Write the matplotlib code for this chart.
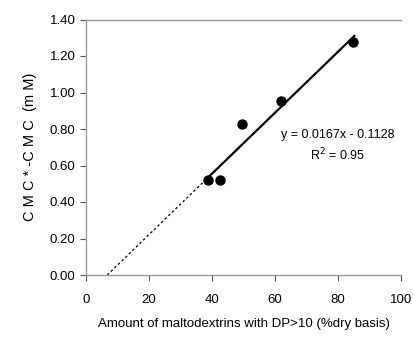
import numpy as np
import matplotlib.pyplot as plt

plt.rcParams['font.family'] = ['Liberation Sans', 'DejaVu Sans']

# data
dp10 = [38.6, 42.5, 49.4, 62.0, 84.9]
cmc_diff = [0.52, 0.52, 0.83, 0.955, 1.275]
slope = 0.0167
intercept = -0.1128
r2 = 0.95

x_ticks = [0, 20, 40, 60, 80, 100]
y_ticks = [0.0, 0.2, 0.4, 0.6, 0.8, 1.0, 1.2, 1.4]

fig = plt.figure(figsize=(4.13, 3.39), dpi=100)
ax = fig.add_axes([86 / 413, 64 / 339, 315 / 413, 255.5 / 339])

ax.scatter(dp10, cmc_diff, s=42, color="black", zorder=5)

# solid trend over the data range
x_fit = np.array([min(dp10), max(dp10) + 0.3])
ax.plot(x_fit, slope * x_fit + intercept, color="black", lw=1.6)

# dashed extension back to zero
x0 = -intercept / slope
x_ext = np.array([x0, min(dp10)])
ax.plot(x_ext, slope * x_ext + intercept, color="black", lw=0.9, linestyle=(0, (2, 2)))

ax.text(80, 0.765, f"y = {slope}x - {abs(intercept)}", fontsize=9, ha="center", va="center")
ax.text(80, 0.655, f"R$^2$ = {r2}", fontsize=9, ha="center", va="center")

ax.set_xlim(0, 100)
ax.set_ylim(0, 1.4)
ax.set_xticks(x_ticks)
ax.set_yticks(y_ticks)
ax.set_yticklabels([f"{v:.2f}" for v in y_ticks])
ax.tick_params(axis="both", labelsize=9.5, length=4, width=0.8, color="#555555")
ax.tick_params(axis="x", pad=10)

for side in ["left", "bottom", "top"]:
    ax.spines[side].set_color("#999999")
    ax.spines[side].set_linewidth(1.0)
ax.spines["right"].set_visible(False)

ax.set_xlabel("Amount of maltodextrins with DP>10 (%dry basis)", fontsize=9.5, labelpad=8)
ax.set_ylabel("C M C * -C M C  (m M)", fontsize=10.5, labelpad=9)

fig.savefig("out.png", dpi=100)
